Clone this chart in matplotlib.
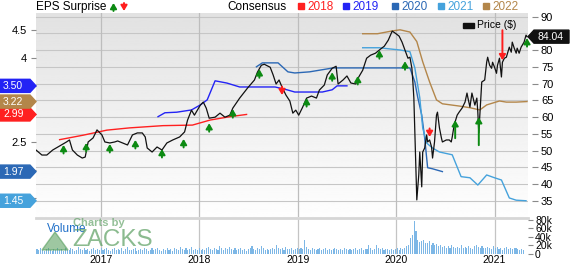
import matplotlib
matplotlib.use("Agg")
import matplotlib.pyplot as plt
import numpy as np
from matplotlib.patches import Polygon, Rectangle
from matplotlib.transforms import blended_transform_factory

plt.rcParams['font.family'] = ['Liberation Sans', 'DejaVu Sans']

# ---- data (time in decimal years) ----
price_t = [2016.34, 2016.40, 2016.45, 2016.51, 2016.58, 2016.65, 2016.68, 2016.71, 2016.76, 2016.81,
           2016.84, 2016.87, 2016.92, 2016.96, 2017.01, 2017.04, 2017.09, 2017.14, 2017.17, 2017.22,
           2017.27, 2017.32, 2017.37, 2017.42, 2017.45, 2017.47, 2017.52, 2017.57, 2017.62, 2017.67,
           2017.73, 2017.80, 2017.85, 2017.88, 2017.92, 2017.95, 2018.01, 2018.04, 2018.07, 2018.10,
           2018.16, 2018.21, 2018.26, 2018.31, 2018.34, 2018.41, 2018.49, 2018.56, 2018.59, 2018.63,
           2018.66, 2018.72, 2018.75, 2018.78, 2018.81, 2018.84, 2018.88, 2018.92, 2018.95, 2018.98,
           2019.01, 2019.05, 2019.09, 2019.14, 2019.19, 2019.22, 2019.27, 2019.30, 2019.35, 2019.39,
           2019.41, 2019.46, 2019.50, 2019.54, 2019.59, 2019.62, 2019.66, 2019.70, 2019.74, 2019.79,
           2019.84, 2019.88, 2019.92, 2019.96, 2019.99, 2020.03, 2020.06, 2020.09, 2020.12, 2020.14,
           2020.16, 2020.17, 2020.18, 2020.19, 2020.20, 2020.21, 2020.23, 2020.24, 2020.26, 2020.27,
           2020.29, 2020.31, 2020.32, 2020.34, 2020.36, 2020.37, 2020.39, 2020.41, 2020.42, 2020.44,
           2020.46, 2020.47, 2020.51, 2020.54, 2020.56, 2020.57, 2020.59, 2020.62, 2020.64, 2020.67,
           2020.70, 2020.72, 2020.73, 2020.75, 2020.77, 2020.78, 2020.80, 2020.82, 2020.83, 2020.84,
           2020.86, 2020.87, 2020.90, 2020.92, 2020.93, 2020.95, 2020.97, 2020.98, 2021.00, 2021.02,
           2021.03, 2021.05, 2021.07, 2021.08, 2021.10, 2021.12, 2021.15, 2021.17, 2021.18, 2021.20,
           2021.22, 2021.23, 2021.25, 2021.27, 2021.30, 2021.32, 2021.33]
price = [50.2, 48.7, 48.7, 50.2, 51.4, 52.6, 53.2, 50.2, 48.7, 47.8,
         48.1, 52.6, 53.8, 56.2, 54.7, 52.6, 52.3, 52.6, 52.9, 52.3,
         51.7, 54.7, 55.3, 55.3, 54.1, 50.8, 49.6, 51.1, 50.2, 52.3,
         53.2, 54.1, 55.6, 59.1, 62.1, 60.6, 63.6, 64.5, 62.7, 59.7,
         60.0, 61.2, 60.0, 60.6, 62.7, 65.7, 68.7, 71.1, 73.4, 75.5,
         75.8, 74.9, 72.6, 69.9, 71.1, 69.0, 66.6, 64.8, 61.2, 62.1,
         60.6, 63.0, 65.7, 66.3, 65.7, 68.1, 69.6, 72.6, 74.6, 75.2,
         69.9, 71.1, 72.3, 70.2, 69.9, 72.0, 74.0, 77.6, 78.5, 79.1,
         80.3, 81.2, 83.0, 85.7, 85.1, 84.2, 82.4, 80.0, 77.6, 77.9,
         74.6, 70.5, 65.7, 55.6, 45.7, 35.3, 42.8, 49.6, 39.2, 49.6,
         50.8, 54.7, 52.6, 53.2, 51.1, 47.8, 52.6, 60.6, 61.5, 56.8,
         53.8, 52.6, 53.2, 53.2, 52.6, 54.1, 57.7, 60.6, 61.5, 62.7,
         64.5, 67.2, 65.7, 63.0, 67.2, 66.0, 63.6, 65.7, 61.5, 55.3,
         65.7, 70.5, 71.1, 76.4, 77.9, 75.5, 74.6, 76.4, 74.9, 73.1,
         75.5, 77.6, 72.0, 76.4, 77.6, 77.9, 80.9, 79.4, 82.4, 80.6,
         79.1, 80.6, 79.1, 80.9, 82.4, 84.5, 84.04]

# consensus EPS estimates per fiscal year
c2018_t = [2016.58, 2016.82, 2017.06, 2017.29, 2017.63, 2017.93, 2018.11, 2018.31, 2018.48]
c2018 = [2.54, 2.62, 2.71, 2.75, 2.79, 2.80, 2.89, 2.95, 2.99]
c2019_t = [2017.58, 2017.65, 2017.77, 2017.92, 2018.01, 2018.08, 2018.16, 2018.28, 2018.41,
           2018.77, 2018.89, 2018.97, 2019.12, 2019.25, 2019.35, 2019.40, 2019.50]
c2019 = [2.95, 3.02, 3.03, 3.07, 3.16, 3.25, 3.59, 3.55, 3.48,
         3.48, 3.43, 3.39, 3.39, 3.39, 3.43, 3.50, 3.50]
c2020_t = [2018.58, 2018.64, 2018.80, 2018.90, 2018.97, 2019.12, 2019.36, 2019.50, 2020.09,
           2020.14, 2020.19, 2020.22, 2020.26, 2020.29, 2020.32, 2020.37, 2020.47]
c2020 = [3.84, 3.91, 3.91, 3.75, 3.73, 3.75, 3.82, 3.82, 3.82,
         3.82, 3.57, 3.29, 2.98, 2.57, 2.04, 2.02, 1.97]
c2021_t = [2019.66, 2019.83, 2019.93, 2020.04, 2020.14, 2020.19, 2020.24, 2020.27, 2020.31,
           2020.37, 2020.44, 2020.57, 2020.66, 2020.75, 2020.83, 2020.92, 2021.00, 2021.07,
           2021.15, 2021.22, 2021.32]
c2021 = [4.18, 4.18, 4.16, 4.14, 4.11, 3.82, 3.29, 2.75, 2.48,
         2.39, 2.32, 2.27, 1.88, 1.86, 1.73, 1.91, 1.86, 1.82,
         1.50, 1.46, 1.45]
c2022_t = [2019.66, 2019.81, 2019.90, 2019.96, 2020.04, 2020.14, 2020.21, 2020.27, 2020.34,
           2020.41, 2020.47, 2020.64, 2020.75, 2020.85, 2020.92, 2021.05, 2021.12, 2021.22, 2021.33]
c2022 = [4.43, 4.43, 4.46, 4.48, 4.50, 4.46, 4.29, 3.93, 3.57,
         3.25, 3.18, 3.14, 3.11, 3.07, 3.16, 3.23, 3.21, 3.21, 3.22]

# EPS surprise markers (report date, price, +1 beat / -1 miss)
surprise_t = [2016.62, 2016.85, 2017.09, 2017.35, 2017.62, 2017.84, 2018.10, 2018.34, 2018.61, 2018.84,
              2019.09, 2019.35, 2019.61, 2019.83, 2020.09, 2020.34, 2020.60, 2020.84, 2021.08, 2021.33]
surprise_price = [51.7, 52.3, 52.0, 53.2, 50.5, 53.5, 58.2, 62.4, 74.3, 66.6,
                  65.7, 73.4, 72.3, 80.0, 76.7, 54.1, 59.1, 60.0, 77.0, 83.6]
surprise_sign = [1, 1, 1, 1, 1, 1, 1, 1, 1, -1,
                 1, 1, 1, 1, 1, -1, 1, 1, -1, 1]

# weekly volume, thousands of shares
vol_k = [12, 9, 14, 10, 8, 11, 13, 9, 7, 12, 10, 15, 9, 11, 8, 13, 10, 9, 14, 12,
         8, 10, 16, 11, 9, 13, 10, 12, 8, 11, 14, 9, 12, 10,
         13, 9, 11, 15, 10, 8, 12, 14, 9, 11, 10, 13, 8, 12, 16, 10, 9, 11, 13, 8,
         10, 12, 9, 14, 11, 8, 10, 13, 9, 12, 15, 10, 8, 11, 9, 13, 10, 12, 8, 14,
         11, 9, 17, 12, 10, 13, 9, 11, 16, 10, 12, 9,
         14, 10, 12, 9, 13, 16, 11, 10, 15, 12, 9, 19, 13, 10, 14, 11, 17, 12, 10, 13,
         9, 11, 14, 10, 12, 8, 11, 13, 19, 12, 10, 15, 11, 18, 13, 10, 12, 9, 11, 14,
         12, 20, 15, 11, 13, 10, 16, 12, 11, 14, 10, 12,
         13, 11, 15, 12, 34, 16, 12, 10, 13, 11, 9, 12, 14, 10, 11, 13, 9, 12, 10, 11,
         14, 12, 9, 11, 10, 13, 12, 10, 11, 9, 12, 14, 10, 11, 13, 10, 12, 11, 20, 13,
         10, 12, 22, 15, 11, 13, 10, 12, 11, 9, 12, 10,
         11, 13, 10, 15, 12, 14, 18, 20, 38, 45, 78, 55, 33, 28, 30, 32, 27, 25, 30, 22,
         26, 20, 24, 18, 22, 16, 19, 15, 18, 14, 20, 16, 13, 17, 15, 20, 14, 16, 13, 18,
         15, 12, 19, 21, 16, 14, 18, 13, 15, 17, 14, 12,
         18, 14, 16, 12, 15, 10, 13, 16, 12, 14, 11, 13, 15, 12, 10, 11, 9]

last_price = 84.04
years = [2017, 2018, 2019, 2020, 2021]
price_ticks = [35, 40, 45, 50, 55, 60, 65, 70, 75, 80, 85, 90]
price_ticklabels = ['35', '40', '45', '50', '55', '60', '65', '70', '75', '80', '', '90']  # 85 sits under the price tag
eps_ticks = [1.5, 2.0, 2.5, 3.0, 3.5, 4.0, 4.5]
eps_ticklabels = ['', '', '2.5', '', '', '4', '4.5']   # others sit under the value tags
vol_ticks = [0, 20, 40, 60, 80]
vol_ticklabels = ['0', '20k', '40k', '60k', '80k']

# ---- styling ----
GREEN = '#0c8a12'
RED = '#ff1e1e'
series = [('2018', c2018_t, c2018, '#ff2020'),
          ('2019', c2019_t, c2019, '#2323f5'),
          ('2020', c2020_t, c2020, '#2b68b5'),
          ('2021', c2021_t, c2021, '#45a2dc'),
          ('2022', c2022_t, c2022, '#b3864a')]
EPS_LIM = (1.16, 4.80)
PRICE_LIM = (30.2, 91.1)
X_LIM = (2016.34, 2021.34)
W, H = 570, 264


def eps_to_price(e):
    e = np.asarray(e, dtype=float)
    return PRICE_LIM[0] + (e - EPS_LIM[0]) * (PRICE_LIM[1] - PRICE_LIM[0]) / (EPS_LIM[1] - EPS_LIM[0])


def price_to_eps(p):
    p = np.asarray(p, dtype=float)
    return EPS_LIM[0] + (p - PRICE_LIM[0]) * (EPS_LIM[1] - EPS_LIM[0]) / (PRICE_LIM[1] - PRICE_LIM[0])


def fig_rect(x0, y0, x1, y1):
    # pixel box, top-left origin -> figure fraction
    return [x0 / W, 1 - y1 / H, (x1 - x0) / W, (y1 - y0) / H]


fig = plt.figure(figsize=(W / 100, H / 100), dpi=100)
ax = fig.add_axes(fig_rect(36, 13, 528, 217))
vax = fig.add_axes(fig_rect(36, 218, 528, 254))
axw = 492.0

# background gradient + grid
grad = np.linspace(0.885, 0.995, 256).reshape(-1, 1)
ax.imshow(grad, cmap='gray', vmin=0, vmax=1, extent=[0, 1, 0, 1],
          transform=ax.transAxes, aspect='auto', zorder=0)
for p in price_ticks:
    ax.axhline(p, color='#c6c6c6', lw=0.8, zorder=1)
for yr in years:
    ax.axvline(yr, color='#bdbdbd', lw=0.9, zorder=1)
    vax.axvline(yr, color='#c4c4c4', lw=0.9, zorder=1)

# consensus lines and price
for name, t, v, c in series:
    ax.plot(t, eps_to_price(v), color=c, lw=1.0, zorder=2)
ax.plot(price_t, price, color='#111111', lw=0.9, zorder=3)

# surprise arrows
ARROW = '-|>,head_length=0.32,head_width=0.19'
long_arrows = {16: 18, 17: 28, 18: 30}
for i, (t, p, s) in enumerate(zip(surprise_t, surprise_price, surprise_sign)):
    length = long_arrows.get(i, 8.5) * 0.72
    ax.annotate('', xy=(t, p), xytext=(0, -s * length), textcoords='offset points',
                arrowprops=dict(arrowstyle=ARROW, color=GREEN if s > 0 else RED, lw=1.4,
                                shrinkA=0, shrinkB=0),
                annotation_clip=False, zorder=5)

ax.set_xlim(X_LIM)
ax.set_ylim(PRICE_LIM)
for s in ax.spines.values():
    s.set_visible(False)
ax.set_xticks(years)
ax.tick_params(axis='x', length=0, labelbottom=False)
ax.yaxis.tick_right()
ax.set_yticks(price_ticks)
ax.set_yticklabels(price_ticklabels)
ax.spines['right'].set_position(('outward', 3))
ax.tick_params(axis='y', direction='out', length=4.3, width=0.8, color='#8a8a8a',
               pad=2, labelsize=8)

sec = ax.secondary_yaxis('left', functions=(price_to_eps, eps_to_price))
sec.set_yticks(eps_ticks)
sec.set_yticklabels(eps_ticklabels)
sec.tick_params(length=3.6, width=0.8, color='#8a8a8a', labelsize=8, pad=3)
sec.spines['left'].set_visible(False)

# value tags
tr = blended_transform_factory(ax.transAxes, ax.transData)
hh = 1.95
for name, t, v, c in series:
    y = float(eps_to_price(v[-1]))
    xs = [-36 / axw, -6 / axw, 0, -6 / axw, -36 / axw]
    ax.add_patch(Polygon(np.c_[xs, [y - hh, y - hh, y, y + hh, y + hh]], closed=True,
                         transform=tr, color=c, clip_on=False, zorder=10))
    ax.text(-33 / axw, y, f'{v[-1]:.2f}', transform=tr, color='white', fontsize=7.5,
            va='center', ha='left', zorder=11, clip_on=False)

xs = [1, 1 + 6 / axw, 1 + 41 / axw, 1 + 41 / axw, 1 + 6 / axw]
ax.add_patch(Polygon(np.c_[xs, [last_price, last_price - hh, last_price - hh,
                                last_price + hh, last_price + hh]], closed=True,
                     transform=tr, color='#111111', clip_on=False, zorder=10))
ax.text(1 + 23 / axw, last_price, f'{last_price:.2f}', transform=tr, color='white',
        fontsize=7.5, va='center', ha='center', zorder=11, clip_on=False)

# volume panel
vol_t = X_LIM[0] + 0.01 + np.arange(len(vol_k)) / 52.18
vax.bar(vol_t, vol_k, width=0.011, color='#7db7e6', edgecolor='none', zorder=2)
vax.set_xlim(X_LIM)
vax.set_ylim(0, 84.7)
for k, s in vax.spines.items():
    s.set_visible(k == 'top')
vax.spines['top'].set_color('#d6d6d6')
vax.spines['top'].set_linewidth(2)
vax.set_xticks(years)
vax.set_xticklabels([str(y) for y in years])
vax.tick_params(axis='x', length=0, labelsize=7.5, pad=0.5)
vax.yaxis.tick_right()
vax.set_yticks(vol_ticks)
vax.set_yticklabels(vol_ticklabels)
vax.tick_params(axis='y', length=3.6, width=0.8, color='#8a8a8a', labelsize=7.5, pad=1.5)

# header legends
fig.text(36 / W, 1 - 7 / H, 'EPS Surprise', fontsize=8.5, va='center', ha='left')
for x, c, s in [(113.5, GREEN, 1), (124, RED, -1)]:
    tip, tail = (3, 11) if s > 0 else (11, 3)
    ax.annotate('', xy=(x, H - tip), xycoords='figure pixels',
                xytext=(x, H - tail), textcoords='figure pixels',
                arrowprops=dict(arrowstyle=ARROW, color=c, lw=1.4, shrinkA=0, shrinkB=0),
                annotation_clip=False)
fig.text(227 / W, 1 - 7 / H, 'Consensus', fontsize=8.5, va='center', ha='left')
for (name, t, v, c), x in zip(series, [298, 343, 392, 438, 483]):
    fig.add_artist(Rectangle((x / W, 1 - 9 / H), 6 / W, 6 / H, transform=fig.transFigure,
                             color=c))
    fig.text((x + 9) / W, 1 - 7 / H, name, fontsize=8.5, color=c, va='center', ha='left')

fig.add_artist(Rectangle((463 / W, 1 - 28 / H), 11 / W, 5 / H, transform=fig.transFigure,
                         color='#111111', zorder=6))
fig.text(477 / W, 1 - 25.5 / H, 'Price ($)', fontsize=7.5, va='center', ha='left', zorder=6)

# volume label + watermark
fig.text(47 / W, 1 - 229 / H, 'Volume', fontsize=8.5, color='#1f6fc8', va='center', ha='left')
fig.add_artist(Polygon([(42 / W, 1 - 250 / H), (55 / W, 1 - 232 / H), (68 / W, 1 - 250 / H)],
                       closed=True, transform=fig.transFigure, color='#4f9a55', alpha=0.55))
fig.text(73 / W, 1 - 222.5 / H, 'Charts by', fontsize=8, weight='bold', color='#5a9e60',
         alpha=0.65, va='center', ha='left')
fig.text(72 / W, 1 - 240.5 / H, 'ZACKS', fontsize=17.5, color='#5a9e60', alpha=0.7,
         va='center', ha='left')

fig.savefig('out.png', dpi=100)
